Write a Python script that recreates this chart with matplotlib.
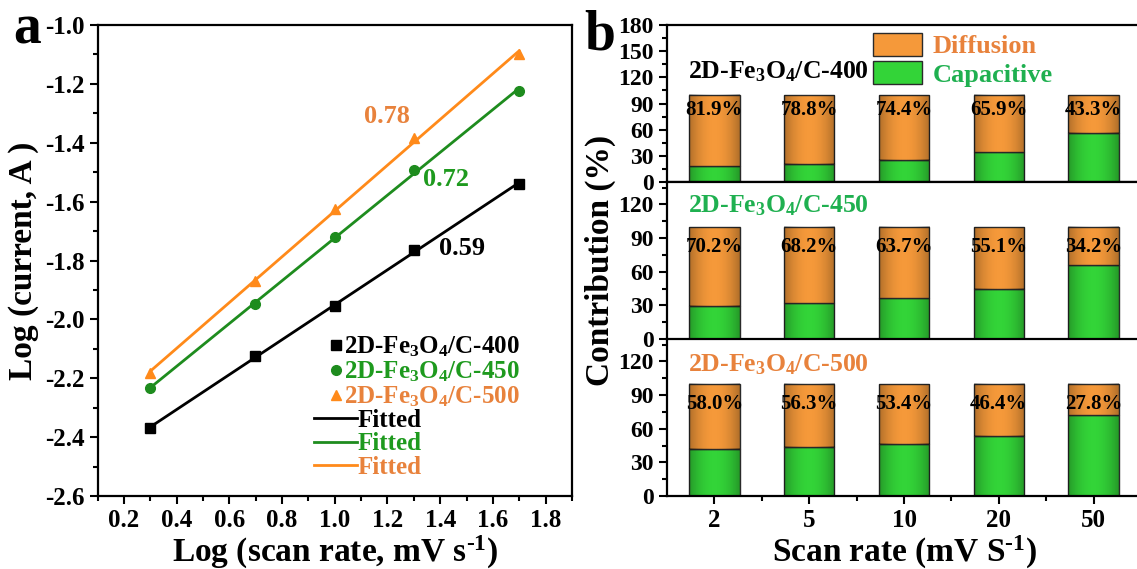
import numpy as np
import matplotlib
matplotlib.use("Agg")
import matplotlib.pyplot as plt
from matplotlib.lines import Line2D
from matplotlib.patches import Patch
from matplotlib.ticker import MultipleLocator, FixedLocator

plt.rcParams['font.family'] = ['Liberation Serif', 'DejaVu Serif']
plt.rcParams['font.weight'] = 'bold'
plt.rcParams['axes.labelweight'] = 'bold'
plt.rcParams['mathtext.fontset'] = 'custom'
plt.rcParams['mathtext.rm'] = 'Liberation Serif:bold'
plt.rcParams['mathtext.bf'] = 'Liberation Serif:bold'
plt.rcParams['mathtext.it'] = 'Liberation Serif:bold:italic'
plt.rcParams['mathtext.default'] = 'rm'
plt.rcParams['axes.unicode_minus'] = False

# ---- panel a data: log(scan rate) vs log(peak current)
log_rate = [0.301, 0.699, 1.0, 1.301, 1.699]
log_i_400 = [-2.368, -2.126, -1.954, -1.763, -1.541]
log_i_450 = [-2.233, -1.948, -1.720, -1.491, -1.225]
log_i_500 = [-2.181, -1.868, -1.625, -1.385, -1.100]
slope_labels = ['0.59', '0.72', '0.78']
sample_names = [r'2D-Fe$_3$O$_4$/C-400', r'2D-Fe$_3$O$_4$/C-450', r'2D-Fe$_3$O$_4$/C-500']

# ---- panel b data: contribution (%)
scan_rates = ['2', '5', '10', '20', '50']
diff_400 = [81.9, 78.8, 74.4, 65.9, 43.3]
cap_400 = [18.1, 21.2, 25.6, 34.1, 56.7]
diff_450 = [70.2, 68.2, 63.7, 55.1, 34.2]
cap_450 = [29.8, 31.8, 36.3, 44.9, 65.8]
diff_500 = [58.0, 56.3, 53.4, 46.4, 27.8]
cap_500 = [42.0, 43.7, 46.6, 53.6, 72.2]

BLACK = '#000000'
GREEN_LINE = '#1E8C1E'
GREEN_MID = '#1E9A1E'
ORANGE_LINE = '#FF8A1A'
ORANGE_TXT = '#E8823C'
GREEN_TXT = '#1FB050'
BAR_ORANGE = '#F5993A'
BAR_GREEN = '#33D438'
BAR_EDGE = '#2a2a2a'

W, H = 1137, 569
fig = plt.figure(figsize=(W / 100, H / 100), dpi=100)


def px_box(left, top, right, bottom):
    return [left / W, 1 - bottom / H, (right - left) / W, (bottom - top) / H]


def style_axes(ax, size=17):
    for s in ax.spines.values():
        s.set_linewidth(1.6)
    ax.tick_params(which='both', direction='out', width=1.5, labelsize=size)
    ax.tick_params(which='major', length=6)
    ax.tick_params(which='minor', length=3.5)
    ax.tick_params(top=False, right=False)


# darker at the bar sides, clear in the middle (Origin-like shading)
_t = np.linspace(-1, 1, 64)
SHADE = np.zeros((1, 64, 4))
SHADE[..., 3] = 0.28 * np.abs(_t) ** 2


def shade_bars(ax, bars):
    for r in bars:
        x0, y0 = r.get_x(), r.get_y()
        ax.imshow(SHADE, extent=[x0, x0 + r.get_width(), y0, y0 + r.get_height()],
                  aspect='auto', clip_path=r, zorder=2.5, interpolation='bilinear')


# ================= panel a =================
ax = fig.add_axes(px_box(97.5, 25, 572, 496))
series = [(log_i_400, BLACK, BLACK, 's'),
          (log_i_450, GREEN_LINE, GREEN_LINE, 'o'),
          (log_i_500, ORANGE_LINE, ORANGE_LINE, '^')]
for ys, lc, mc, mk in series:
    k, b = np.polyfit(log_rate, ys, 1)
    xx = np.array([log_rate[0], log_rate[-1]])
    ax.plot(xx, k * xx + b, color=lc, lw=2, zorder=2)
    ax.plot(log_rate, ys, linestyle='none', marker=mk, color=mc, ms=7, zorder=3)

ax.set_xlim(0.1, 1.9)
ax.set_ylim(-2.6, -1.0)
ax.xaxis.set_major_locator(FixedLocator(np.arange(0.2, 1.81, 0.2)))
ax.xaxis.set_minor_locator(MultipleLocator(0.1))
ax.yaxis.set_major_locator(MultipleLocator(0.2))
ax.yaxis.set_minor_locator(MultipleLocator(0.1))
ax.xaxis.set_major_formatter(lambda v, p: f'{v:.1f}')
ax.yaxis.set_major_formatter(lambda v, p: f'{v:.1f}')
style_axes(ax, 18)
ax.set_xlabel(r'Log (scan rate, mV s$^{\text{-1}}$)', fontsize=24, labelpad=1)
ax.set_ylabel('Log (current, A )', fontsize=24, labelpad=4)

ax.text(1.198, -1.311, slope_labels[2], color=ORANGE_TXT, fontsize=19, ha='center', va='center')
ax.text(1.423, -1.526, slope_labels[1], color=GREEN_MID, fontsize=19, ha='center', va='center')
ax.text(1.484, -1.760, slope_labels[0], color=BLACK, fontsize=19, ha='center', va='center')

mk_handles = [Line2D([], [], ls='none', marker=m, color=c, ms=7)
              for _, _, c, m in series]
leg1 = ax.legend(mk_handles, sample_names, loc='center left',
                 bbox_to_anchor=(329 / W, 1 - 372 / H), bbox_transform=fig.transFigure,
                 frameon=False, fontsize=18, handlelength=0.55, handletextpad=0.05,
                 borderpad=0, borderaxespad=0, labelspacing=0.02,
                 labelcolor=[BLACK, GREEN_MID, ORANGE_TXT])
ax.add_artist(leg1)
ln_handles = [Line2D([], [], color=c, lw=2) for _, c, _, _ in series]
ax.legend(ln_handles, ['Fitted'] * 3, loc='center left',
          bbox_to_anchor=(314 / W, 1 - 444 / H), bbox_transform=fig.transFigure,
          frameon=False, fontsize=18, handlelength=1.7, handletextpad=0.05,
          borderpad=0, borderaxespad=0, labelspacing=0.02,
          labelcolor=[BLACK, GREEN_MID, ORANGE_TXT])

fig.text(27 / W, 1 - 30 / H, 'a', fontsize=40, ha='center', va='center')

# ================= panel b =================
panel_h = (496 - 25) / 3
x = np.arange(1, len(scan_rates) + 1)
groups = [(diff_400, cap_400, 180, 'black', 126),
          (diff_450, cap_450, 140, GREEN_TXT, 119),
          (diff_500, cap_500, 140, ORANGE_TXT, 117)]
axes_b = []
for i, (dif, cap, ymax, tcol, ty) in enumerate(groups):
    top = 25 + i * panel_h
    bx = fig.add_axes(px_box(667, top, 1141, top + panel_h))
    axes_b.append(bx)
    g = bx.bar(x, cap, width=0.53, color=BAR_GREEN, edgecolor=BAR_EDGE, lw=1, zorder=2)
    o = bx.bar(x, dif, width=0.53, bottom=cap, color=BAR_ORANGE, edgecolor=BAR_EDGE, lw=1, zorder=2)
    shade_bars(bx, list(g) + list(o))
    for xi, d in zip(x, dif):
        bx.text(xi, 82, f'{d:.1f}%', ha='center', va='center', fontsize=15, zorder=3)
    bx.set_xlim(0.5, 5.5)
    bx.set_ylim(0, ymax)
    bx.yaxis.set_major_locator(FixedLocator(np.arange(0, 181 if ymax == 180 else 121, 30)))
    bx.yaxis.set_minor_locator(MultipleLocator(15))
    bx.xaxis.set_major_locator(FixedLocator(x))
    bx.xaxis.set_minor_locator(FixedLocator(x[:-1] + 0.5))
    style_axes(bx, 17)
    bx.text(0.044, ty, sample_names[i], transform=bx.get_yaxis_transform(),
            color=tcol, fontsize=18.5, ha='left', va='center')
    if i < 2:
        bx.tick_params(axis='x', labelbottom=False)
        bx.spines['bottom'].set_visible(i == 0)
    else:
        bx.set_xticklabels(scan_rates)
        bx.tick_params(axis='x', labelsize=18)
        bx.set_xlabel(r'Scan rate (mV S$^{\text{-1}}$)', fontsize=24, labelpad=1)

axes_b[0].legend([Patch(facecolor=BAR_ORANGE, edgecolor=BAR_EDGE),
                  Patch(facecolor=BAR_GREEN, edgecolor=BAR_EDGE)],
                 ['Diffusion', 'Capacitive'], loc='upper left',
                 bbox_to_anchor=(873 / W, 1 - 33 / H), bbox_transform=fig.transFigure,
                 frameon=False, fontsize=19, handlelength=1.85, handleheight=0.95,
                 handletextpad=0.4, borderpad=0, borderaxespad=0, labelspacing=0.1,
                 labelcolor=[ORANGE_TXT, GREEN_TXT])

fig.text(600 / W, 1 - 260 / H, 'Contribution (%)', rotation=90, fontsize=24,
         ha='center', va='center')
fig.text(600 / W, 1 - 35 / H, 'b', fontsize=40, ha='center', va='center')

fig.savefig('out.png', dpi=100)
